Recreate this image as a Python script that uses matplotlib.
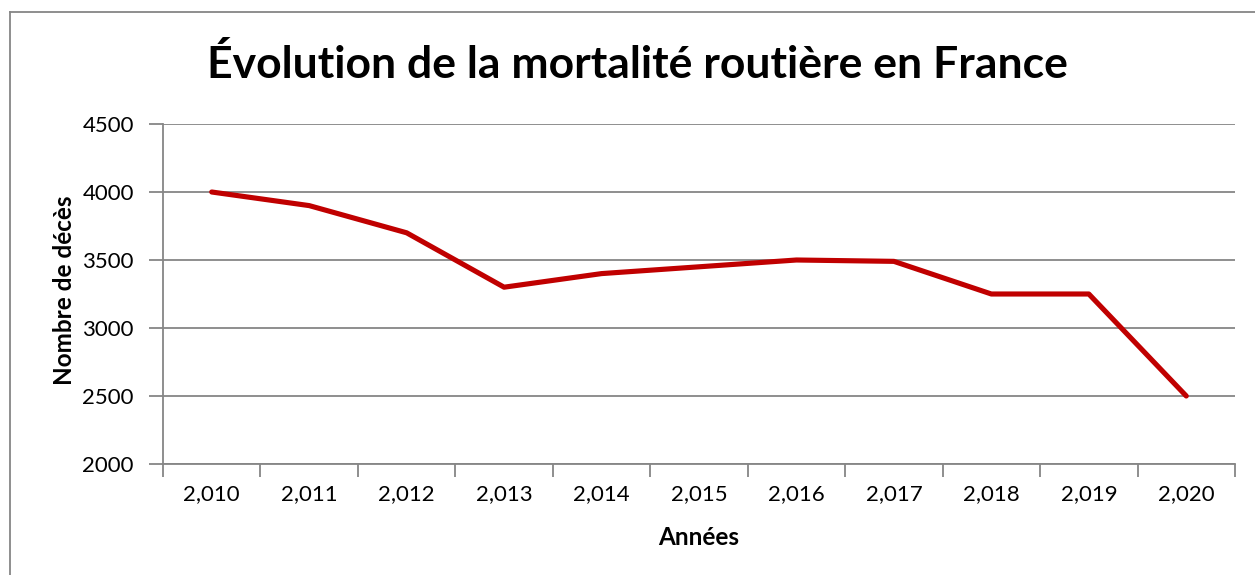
import matplotlib
matplotlib.use("Agg")
import matplotlib.pyplot as plt
from matplotlib.lines import Line2D
import numpy as np

plt.rcParams['font.family'] = ['Lato', 'DejaVu Sans']

years = ["2,010", "2,011", "2,012", "2,013", "2,014", "2,015", "2,016", "2,017", "2,018", "2,019", "2,020"]
deaths = [4000, 3900, 3700, 3300, 3400, 3450, 3500, 3490, 3250, 3250, 2500]
yticks = [2000, 2500, 3000, 3500, 4000, 4500]

W, H = 1255, 575
fig = plt.figure(figsize=(W / 100, H / 100), dpi=100)

left, right, top, bottom = 163, 1235, 124, 464
ax = fig.add_axes([left / W, 1 - bottom / H, (right - left) / W, (bottom - top) / H])

x = np.arange(len(years))
ax.plot(x, deaths, color='#C00000', lw=3.7, solid_capstyle='round', solid_joinstyle='round', zorder=3)

ax.set_xlim(-0.5, len(years) - 0.5)
ax.set_ylim(2000, 4500)
ax.set_yticks(yticks)
ax.set_yticklabels([str(v) for v in yticks])
ax.set_xticks(x)
ax.set_xticklabels(years)
ax.set_xticks(np.arange(len(years) + 1) - 0.5, minor=True)

grey = '#868686'
ax.grid(axis='y', color=grey, lw=1.3, zorder=1)
for s in ['top', 'right']:
    ax.spines[s].set_visible(False)
for s in ['left', 'bottom']:
    ax.spines[s].set_color(grey)
    ax.spines[s].set_linewidth(1.3)

ax.tick_params(axis='y', direction='out', length=10, width=1.3, color=grey, labelsize=16, pad=11)
ax.tick_params(axis='x', which='major', length=0, labelsize=16, pad=14.5)
ax.tick_params(axis='x', which='minor', direction='out', length=9, width=1.3, color=grey)

ax.set_xlabel("Années", fontsize=17.5, fontweight='bold')
ax.set_ylabel("Nombre de décès", fontsize=17.5, fontweight='bold')
ax.xaxis.set_label_coords((699 - left) / (right - left), -(526 - bottom) / (bottom - top))
ax.yaxis.set_label_coords(-(163 - 76) / (right - left), (bottom - 290) / (bottom - top))

fig.text(637 / W, 1 - 64 / H, "Évolution de la mortalité routière en France",
         ha='center', va='center', fontsize=32, fontweight='bold')

# outer chart border
fig.add_artist(Line2D([10 / W, 1.0], [1 - 12 / H, 1 - 12 / H], transform=fig.transFigure, color=grey, lw=1.3))
fig.add_artist(Line2D([10 / W, 10 / W], [1 - 12 / H, 0.0], transform=fig.transFigure, color=grey, lw=1.3))

fig.savefig("out.png", dpi=100)
